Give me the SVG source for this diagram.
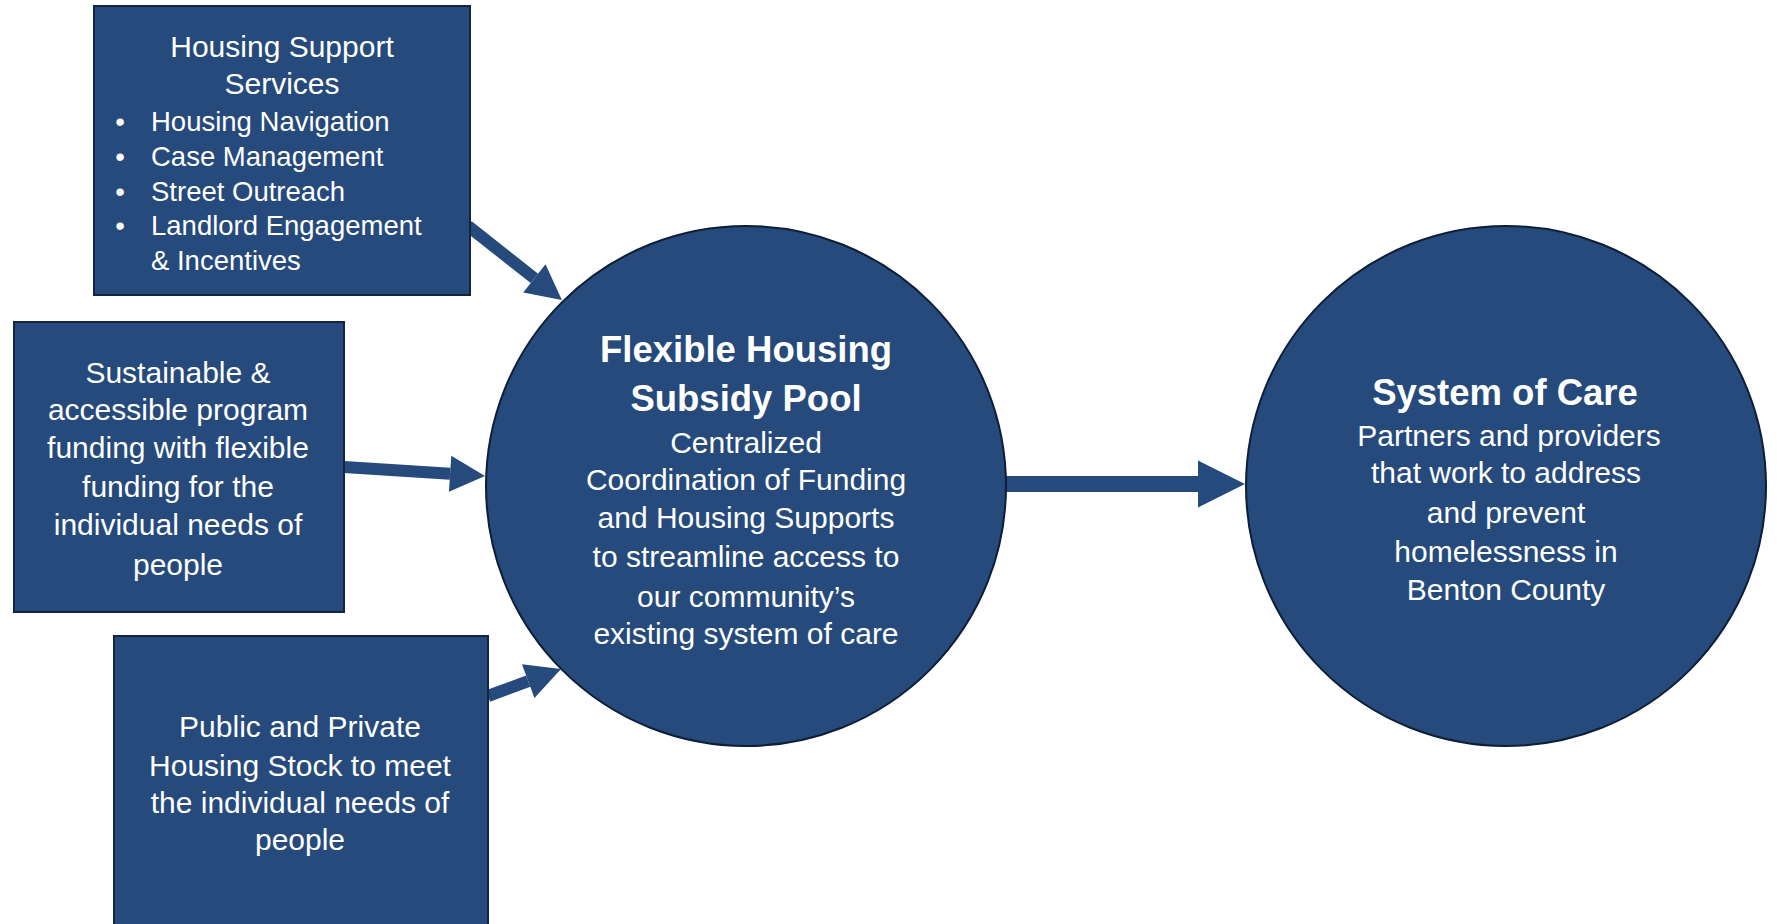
<svg xmlns="http://www.w3.org/2000/svg" width="1777" height="924" viewBox="0 0 1777 924">
  <style>
    .box { fill: #254A7B; stroke: #12243F; stroke-width: 2; }
    .circ { fill: #254A7B; stroke: #0E1E36; stroke-width: 2; }
    text { font-family: "Liberation Sans", Arial, sans-serif; fill: #FFFFFF; }
    .t { font-size: 30px; text-anchor: middle; }
    .s { font-size: 27.5px; }
    .h { font-size: 36.5px; font-weight: bold; text-anchor: middle; }
    .conn { stroke: #254A7B; fill: none; }
  </style>
  <defs>
    <marker id="ah" markerUnits="userSpaceOnUse" markerWidth="36" markerHeight="37" refX="0" refY="18" orient="auto" overflow="visible">
      <path d="M0,0 L35,18 L0,36 Z" fill="#254A7B"/>
    </marker>
    <marker id="ahL" markerUnits="userSpaceOnUse" markerWidth="48" markerHeight="48" refX="0" refY="23.5" orient="auto" overflow="visible">
      <path d="M0,0 L47,23.5 L0,47 Z" fill="#254A7B"/>
    </marker>
  </defs>
  <rect width="1777" height="924" fill="#FFFFFF"/>

  <g id="connectors">
    <line class="conn" x1="468" y1="226" x2="534.4" y2="278.4" stroke-width="12" marker-end="url(#ah)"/>
    <line class="conn" x1="344" y1="467" x2="450.1" y2="473.8" stroke-width="12" marker-end="url(#ah)"/>
    <line class="conn" x1="488" y1="696" x2="528.2" y2="681.1" stroke-width="12" marker-end="url(#ah)"/>
    <line class="conn" x1="1003" y1="484" x2="1198" y2="484" stroke-width="16" marker-end="url(#ahL)"/>
  </g>

  <g id="housing-support-services">
    <rect class="box" x="94" y="6" width="376" height="289"/>
    <text class="t" x="282" y="57">Housing Support</text>
    <text class="t" x="282" y="94">Services</text>
    <text class="s" x="120" y="131" text-anchor="middle">•</text>
    <text class="s" x="151" y="131">Housing Navigation</text>
    <text class="s" x="120" y="166" text-anchor="middle">•</text>
    <text class="s" x="151" y="166">Case Management</text>
    <text class="s" x="120" y="201" text-anchor="middle">•</text>
    <text class="s" x="151" y="201">Street Outreach</text>
    <text class="s" x="120" y="235" text-anchor="middle">•</text>
    <text class="s" x="151" y="235">Landlord Engagement</text>
    <text class="s" x="151" y="270">&amp; Incentives</text>
  </g>

  <g id="program-funding">
    <rect class="box" x="14" y="322" width="330" height="290"/>
    <text class="t" x="178" y="383">Sustainable &amp;</text>
    <text class="t" x="178" y="420">accessible program</text>
    <text class="t" x="178" y="458">funding with flexible</text>
    <text class="t" x="178" y="497">funding for the</text>
    <text class="t" x="178" y="535">individual needs of</text>
    <text class="t" x="178" y="575">people</text>
  </g>

  <g id="housing-stock">
    <rect class="box" x="114" y="636" width="374" height="300"/>
    <text class="t" x="300" y="737">Public and Private</text>
    <text class="t" x="300" y="776">Housing Stock to meet</text>
    <text class="t" x="300" y="813">the individual needs of</text>
    <text class="t" x="300" y="850">people</text>
  </g>

  <g id="subsidy-pool">
    <circle class="circ" cx="746" cy="486" r="260"/>
    <text class="h" x="746" y="362">Flexible Housing</text>
    <text class="h" x="746" y="411">Subsidy Pool</text>
    <text class="t" x="746" y="453">Centralized</text>
    <text class="t" x="746" y="490">Coordination of Funding</text>
    <text class="t" x="746" y="528">and Housing Supports</text>
    <text class="t" x="746" y="567">to streamline access to</text>
    <text class="t" x="746" y="607">our community’s</text>
    <text class="t" x="746" y="644">existing system of care</text>
  </g>

  <g id="system-of-care">
    <circle class="circ" cx="1506" cy="486" r="260"/>
    <text class="h" x="1505" y="405">System of Care</text>
    <text class="t" x="1509" y="446">Partners and providers</text>
    <text class="t" x="1506" y="483">that work to address</text>
    <text class="t" x="1506" y="523">and prevent</text>
    <text class="t" x="1506" y="562">homelessness in</text>
    <text class="t" x="1506" y="600">Benton County</text>
  </g>
</svg>
